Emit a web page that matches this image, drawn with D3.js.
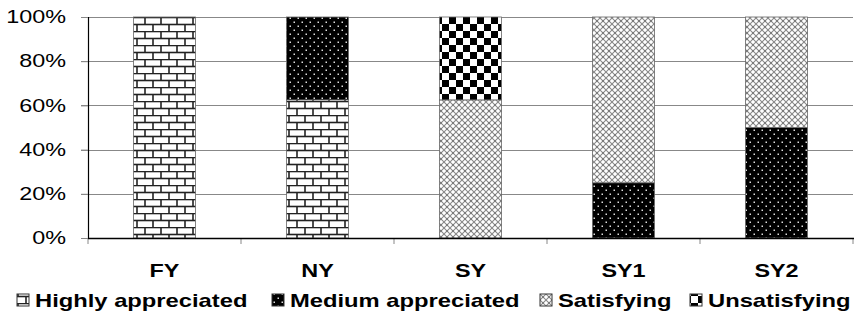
<!DOCTYPE html>
<html>
<head>
<meta charset="utf-8">
<script src="https://cdn.jsdelivr.net/npm/d3@7/dist/d3.min.js"></script>
<style>
  html, body { margin: 0; padding: 0; background: #fff; }
  svg { display: block; font-family: "Liberation Sans", Arial, sans-serif; }
</style>
</head>
<body>
<svg id="chart" width="854" height="324"></svg>
<script>
// Survey groups and the share (%) of each rating within each group
const categories = ["FY", "NY", "SY", "SY1", "SY2"];
const seriesNames = ["Highly appreciated", "Medium appreciated", "Satisfying", "Unsatisfying"];
const highly = [100, 62.5, 0, 0, 0];
const medium = [0, 37.5, 0, 25, 50];
const satisfying = [0, 0, 62.5, 75, 50];
const unsatisfying = [0, 0, 37.5, 0, 0];
const yTicks = [0, 20, 40, 60, 80, 100];

const SX = 1.3;   // horizontal stretch for axis lettering
const LSX = 1.25; // horizontal stretch for legend lettering

const svg = d3.select("#chart");
const defs = svg.append("defs");

// Fill patterns, one per rating
function brick() {
  const p = defs.append("pattern").attr("id", "pat0").attr("patternUnits", "userSpaceOnUse")
    .attr("width", 16).attr("height", 14).attr("x", 0).attr("y", 3);
  p.append("rect").attr("width", 16).attr("height", 14).attr("fill", "#fff");
  const g = p.append("g").attr("stroke", "#222").attr("stroke-width", 1.6).attr("fill", "none");
  g.append("line").attr("x1", 0).attr("x2", 16).attr("y1", 0.5).attr("y2", 0.5);
  g.append("line").attr("x1", 0).attr("x2", 16).attr("y1", 7.5).attr("y2", 7.5);
  g.append("line").attr("x1", 1).attr("x2", 1).attr("y1", 0).attr("y2", 7.5);
  g.append("line").attr("x1", 9).attr("x2", 9).attr("y1", 7.5).attr("y2", 14);
}
function dots() {
  const p = defs.append("pattern").attr("id", "pat1").attr("patternUnits", "userSpaceOnUse")
    .attr("width", 8).attr("height", 8);
  p.append("rect").attr("width", 8).attr("height", 8).attr("fill", "#000");
  p.append("rect").attr("x", 1.5).attr("y", 1.5).attr("width", 1.5).attr("height", 1.5).attr("fill", "#ddd");
  p.append("rect").attr("x", 5.5).attr("y", 5.5).attr("width", 1.5).attr("height", 1.5).attr("fill", "#ddd");
}
function lattice() {
  const p = defs.append("pattern").attr("id", "pat2").attr("patternUnits", "userSpaceOnUse")
    .attr("width", 6).attr("height", 6);
  p.append("rect").attr("width", 6).attr("height", 6).attr("fill", "#fff");
  const g = p.append("g").attr("stroke", "#888").attr("stroke-width", 1.1);
  g.append("line").attr("x1", 0).attr("y1", 0).attr("x2", 6).attr("y2", 6);
  g.append("line").attr("x1", 6).attr("y1", 0).attr("x2", 0).attr("y2", 6);
  p.append("rect").attr("x", 2.5).attr("y", 2.5).attr("width", 1).attr("height", 1).attr("fill", "#444");
}
function checker() {
  const p = defs.append("pattern").attr("id", "pat3").attr("patternUnits", "userSpaceOnUse")
    .attr("width", 14).attr("height", 14).attr("x", 1).attr("y", 3);
  p.append("rect").attr("width", 14).attr("height", 14).attr("fill", "#fff");
  p.append("rect").attr("x", 0).attr("y", 0).attr("width", 7).attr("height", 7).attr("fill", "#000");
  p.append("rect").attr("x", 7).attr("y", 7).attr("width", 7).attr("height", 7).attr("fill", "#000");
}
brick(); dots(); lattice(); checker();

const margin = { left: 88, right: 1, top: 17, bottom: 86 };
const W = 854, H = 324;
const x = d3.scaleBand().domain(categories).range([margin.left, W - margin.right]).paddingInner(0.595).paddingOuter(0.2975);
const y = d3.scaleLinear().domain([0, 100]).range([H - margin.bottom, margin.top]);

const rows = categories.map((c, i) => ({
  cat: c,
  "Highly appreciated": highly[i],
  "Medium appreciated": medium[i],
  "Satisfying": satisfying[i],
  "Unsatisfying": unsatisfying[i]
}));
const stacked = d3.stack().keys(seriesNames)(rows);

// Horizontal gridlines
svg.append("g").selectAll("line").data(yTicks.filter(t => t > 0)).join("line")
  .attr("x1", margin.left - 7).attr("x2", W - 1)
  .attr("y1", d => Math.round(y(d)) + 0.5).attr("y2", d => Math.round(y(d)) + 0.5)
  .attr("stroke", "#888").attr("stroke-width", 1);

// Y axis
const yAxis = svg.append("g").attr("transform", `translate(${margin.left},0)`)
  .call(d3.axisLeft(y).tickValues(yTicks).tickFormat(d => d + "%").tickSize(7).tickPadding(8));
yAxis.select(".domain").attr("stroke", "#000").attr("stroke-width", 1.2).attr("d", `M0.5,${y(100)}V${y(0)}`);
yAxis.selectAll(".tick line").attr("stroke", "#888");
yAxis.selectAll(".tick text").attr("font-size", 18).attr("fill", "#000")
  .attr("font-family", "Liberation Sans, Arial, sans-serif")
  .attr("x", -22 / SX).attr("transform", `scale(${SX},1)`);

// Bars
svg.append("g").selectAll("g").data(stacked).join("g")
  .attr("fill", (d, i) => `url(#pat${i})`)
  .selectAll("rect").data(d => d.filter(s => s[1] - s[0] > 0)).join("rect")
  .attr("x", d => x(d.data.cat))
  .attr("width", x.bandwidth())
  .attr("y", d => y(d[1]))
  .attr("height", d => y(d[0]) - y(d[1]))
  .attr("stroke", "#666").attr("stroke-width", 0.8);

// X axis with boundary ticks
const xAxisG = svg.append("g").attr("transform", `translate(0,${y(0)})`);
const step = x.step();
const bounds = d3.range(categories.length + 1).map(i => margin.left + i * step);
xAxisG.selectAll("line.tk").data(bounds).join("line").attr("class", "tk")
  .attr("x1", d => d).attr("x2", d => d).attr("y1", 0).attr("y2", 6)
  .attr("stroke", "#888");
xAxisG.append("line").attr("x1", margin.left).attr("x2", W).attr("y1", 0.5).attr("y2", 0.5)
  .attr("stroke", "#000").attr("stroke-width", 1.4);
xAxisG.selectAll("text").data(categories).join("text")
  .attr("transform", d => `translate(${x(d) + x.bandwidth() / 2},39) scale(${SX},1)`)
  .attr("text-anchor", "middle").attr("font-weight", "bold").attr("font-size", 18)
  .text(d => d);

// Legend
const legendX = [17, 272, 540, 690];
const lg = svg.append("g").selectAll("g").data(seriesNames).join("g")
  .attr("transform", (d, i) => `translate(${legendX[i]},300)`);
lg.append("rect").attr("x", 0).attr("y", -6).attr("width", 12).attr("height", 12)
  .attr("fill", (d, i) => `url(#pat${i})`).attr("stroke", "#333").attr("stroke-width", 1);
lg.append("text").attr("transform", `translate(18,7) scale(${LSX},1)`)
  .attr("font-weight", "bold").attr("font-size", 19)
  .text(d => d);
</script>
</body>
</html>
